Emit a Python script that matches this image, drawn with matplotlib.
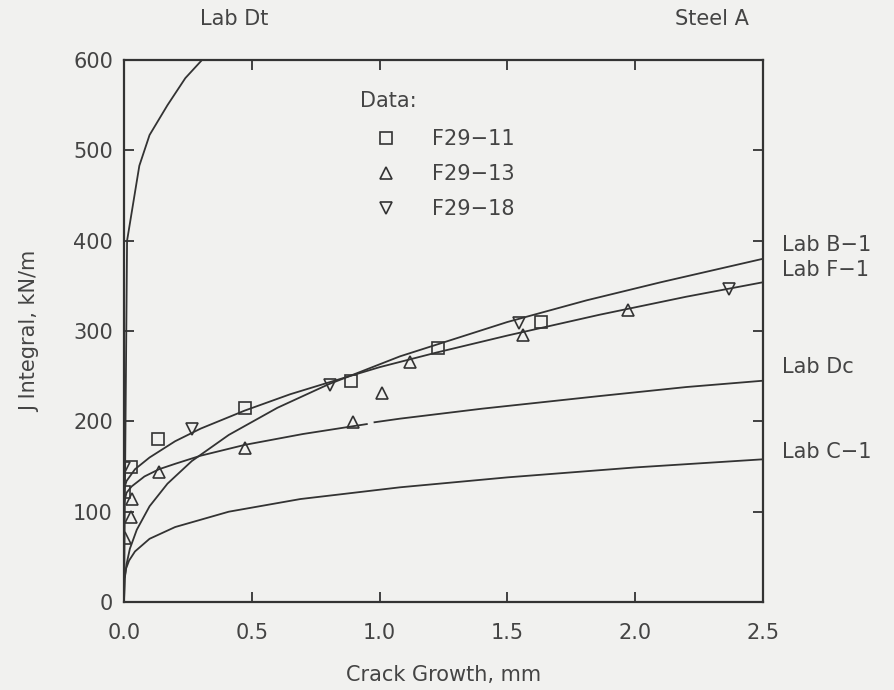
import numpy as np
import matplotlib
matplotlib.use("Agg")
import matplotlib.pyplot as plt

# J-R curves (crack growth mm, J kN/m)
dt_x = [0.0, 0.012, 0.06, 0.1, 0.17, 0.24, 0.305, 0.33]
dt_y = [0, 400, 483, 517, 550, 580, 600, 610]

b1_x = [0.0, 0.003, 0.01, 0.023, 0.05, 0.1, 0.17, 0.265, 0.41, 0.6, 0.8, 1.08, 1.5, 1.81, 2.1, 2.5]
b1_y = [0, 26, 42, 59, 80, 106, 131, 156, 185, 215, 241, 272, 310, 334, 354, 380]

f1_x = [0.0, 0.01, 0.043, 0.1, 0.2, 0.3, 0.473, 0.65, 0.8, 1.0, 1.22, 1.5, 1.86, 2.2, 2.5]
f1_y = [125, 134, 147, 160, 178, 192, 212, 230, 243, 260, 276, 295, 318, 338, 354]

# gap in the Lab Dc line near 0.96 mm
dc_x = [0.0, 0.01, 0.03, 0.08, 0.137, 0.2, 0.3, 0.473, 0.7, 0.95, np.nan, 0.98, 1.08, 1.4, 1.86, 2.2, 2.5]
dc_y = [110, 121, 128, 139, 147, 153, 162, 174, 186, 197, np.nan, 199, 203, 214, 228, 238, 245]

c1_x = [0.0, 0.002, 0.008, 0.02, 0.043, 0.1, 0.2, 0.41, 0.69, 1.08, 1.5, 2.0, 2.5]
c1_y = [0, 26, 37, 46, 56, 70, 83, 100, 114, 127, 138, 149, 158]

curve_names = ['Lab B-1', 'Lab F-1', 'Lab Dc', 'Lab C-1']
curve_label_y = [395, 368, 260, 166]

# test data
f29_11_x = [0.0, 0.027, 0.133, 0.473, 0.89, 1.227, 1.63]
f29_11_y = [122, 150, 180, 215, 245, 281, 310]
f29_13_x = [0.004, 0.027, 0.03, 0.137, 0.473, 0.895, 1.01, 1.117, 1.56, 1.97]
f29_13_y = [71, 94, 114, 144, 170, 199, 231, 266, 296, 323]
f29_18_x = [0.0, 0.265, 0.805, 1.547, 2.367]
f29_18_y = [148, 192, 240, 309, 346]

bg = '#f1f1ef'
ink = '#333333'
txt = '#444444'

plt.rcParams['font.family'] = ['DejaVu Sans']
fig = plt.figure(figsize=(8.94, 6.9), dpi=100, facecolor=bg)
ax = fig.add_axes([0.1387, 0.1275, 0.7148, 0.7855], facecolor=bg)

for xs, ys in [(dt_x, dt_y), (b1_x, b1_y), (f1_x, f1_y), (dc_x, dc_y), (c1_x, c1_y)]:
    ax.plot(xs, ys, color=ink, lw=1.3)

mk = dict(linestyle='none', mfc='none', mec=ink, ms=9, mew=1.2)
ax.plot(f29_11_x, f29_11_y, marker='s', label='F29\u221211', **mk)
ax.plot(f29_13_x, f29_13_y, marker='^', label='F29\u221213', **mk)
ax.plot(f29_18_x, f29_18_y, marker='v', label='F29\u221218', **mk)

ax.set_xlim(0, 2.5)
ax.set_ylim(0, 600)
ax.set_xticks(np.arange(0, 2.51, 0.5))
ax.set_yticks(np.arange(0, 601, 100))
ax.xaxis.set_major_formatter(plt.FormatStrFormatter('%.1f'))
ax.tick_params(direction='in', length=7, width=1.3, colors=ink, labelcolor=txt,
               labelsize=15, top=True, right=True, pad=8)
ax.tick_params(axis='x', pad=15)
for s in ax.spines.values():
    s.set_linewidth(1.6)
    s.set_color(ink)

ax.set_xlabel('Crack Growth, mm', fontsize=15, color=txt, labelpad=16)
ax.set_ylabel('J Integral, kN/m', fontsize=15, color=txt, labelpad=24)

for name, yv in zip(curve_names, curve_label_y):
    ax.text(2.574, yv, name.replace('-', '\u2212'), fontsize=15, color=txt,
            va='center', ha='left', clip_on=False)
ax.text(0.43, 645, 'Lab Dt', fontsize=15, color=txt, ha='center', va='center', clip_on=False)
ax.text(2.30, 645, 'Steel A', fontsize=15, color=txt, ha='center', va='center', clip_on=False)

ax.text(0.369, 0.925, 'Data:', transform=ax.transAxes, fontsize=15, color=txt,
        ha='left', va='center')
leg = ax.legend(loc='upper left', bbox_to_anchor=(0.355, 0.892),
                frameon=False, fontsize=15,
                handlelength=2.4, handletextpad=1.0, labelspacing=0.72, borderpad=0)
for t in leg.get_texts():
    t.set_color(txt)

fig.savefig('out.png', dpi=100, facecolor=bg)
